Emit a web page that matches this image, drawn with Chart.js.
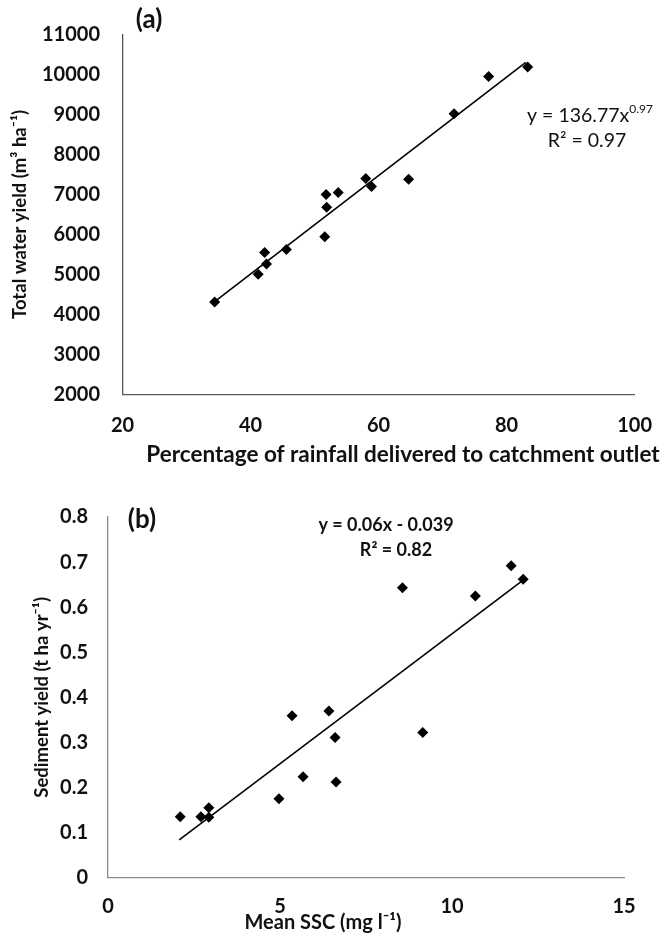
<!DOCTYPE html>
<html>
<head>
<meta charset="utf-8">
<script src="https://cdn.jsdelivr.net/npm/chart.js@4.4.0/dist/chart.umd.min.js"></script>
<style>
  body { margin: 0; background: #fff; }
  #wrap { position: relative; width: 671px; height: 937px; }
  canvas { position: absolute; left: 0; }
  #chartA { top: 0; }
  #chartB { top: 470px; }
</style>
</head>
<body>
<div id="wrap">
  <canvas id="chartA" width="671" height="470"></canvas>
  <canvas id="chartB" width="671" height="467"></canvas>
</div>
<script>
// ----------------------- DATA ----------------------- //

// (a) percentage of rainfall delivered vs total water yield
const pctRain    = [34.4, 41.2, 42.2, 42.5, 45.6, 51.6, 51.9, 51.8, 53.7, 58.0, 58.9, 64.7, 71.8, 77.2, 83.3];
const waterYield = [4310, 5000, 5550, 5260, 5620, 5940, 6680, 7000, 7050, 7400, 7200, 7380, 9020, 9950, 10190];
// fitted power curve, end points as drawn
const fitAx = [34.5, 83.0];
const fitAy = [4330, 10300];
const xTicksA = ['20', '40', '60', '80', '100'];
const yTicksA = ['2000', '3000', '4000', '5000', '6000', '7000', '8000', '9000', '10000', '11000'];

// (b) mean SSC vs sediment yield
const meanSSC  = [2.1, 2.7, 2.93, 2.93, 4.97, 5.67, 5.35, 6.42, 6.6, 6.63, 8.56, 9.15, 10.68, 11.72, 12.07];
const sedYield = [0.135, 0.135, 0.155, 0.134, 0.175, 0.224, 0.359, 0.37, 0.311, 0.212, 0.643, 0.322, 0.625, 0.692, 0.662];
// linear fit, end points as drawn
const fitBx = [2.07, 12.0];
const fitBy = [0.084, 0.656];
const xTicksB = ['0', '5', '10', '15'];
const yTicksB = ['0', '0.1', '0.2', '0.3', '0.4', '0.5', '0.6', '0.7', '0.8'];

const FONT = 'Lato, "Open Sans", sans-serif';

// ----------------------- TEXT PLUGIN ----------------------- //
// draws panel letters, equations and x titles
const notes = {
  id: 'notes',
  afterDraw(chart, args, opts) {
    const ctx = chart.ctx;
    ctx.save();
    ctx.fillStyle = '#111';
    ctx.textBaseline = 'middle';
    for (const t of opts.items) {
      ctx.font = t.font;
      const w1 = ctx.measureText(t.text).width;
      let w2 = 0;
      if (t.sup) {
        ctx.font = t.supFont;
        w2 = ctx.measureText(t.sup).width;
      }
      const start = t.x - (w1 + w2) / 2;
      ctx.textAlign = 'left';
      ctx.font = t.font;
      ctx.fillText(t.text, start, t.y);
      if (t.sup) {
        ctx.font = t.supFont;
        ctx.fillText(t.sup, start + w1, t.y - 7);
      }
    }
    ctx.restore();
  }
};

function tickFont() {
  return { family: FONT, size: 20, weight: 'bold' };
}

// ----------------------- CHART (a) ----------------------- //
new Chart(document.getElementById('chartA'), {
  type: 'scatter',
  data: {
    datasets: [{
      data: pctRain.map((x, i) => ({ x: x, y: waterYield[i] })),
      pointStyle: 'rectRot',
      pointRadius: 5.5,
      backgroundColor: '#000',
      borderColor: '#000',
      borderWidth: 0
    }, {
      type: 'line',
      data: fitAx.map((x, i) => ({ x: x, y: fitAy[i] })),
      borderColor: '#000',
      borderWidth: 1.6,
      pointRadius: 0,
      fill: false
    }]
  },
  options: {
    responsive: false,
    animation: false,
    layout: { padding: { left: 0, right: 31, top: 30, bottom: 0 } },
    plugins: {
      legend: { display: false },
      tooltip: { enabled: false },
      notes: {
        items: [
          { text: '(a)', x: 149, y: 20, font: 'bold 26px ' + FONT },
          { text: 'y = 136.77x', sup: '0.97', x: 590, y: 116, font: '19.5px ' + FONT, supFont: '12px ' + FONT },
          { text: 'R² = 0.97', x: 587, y: 141, font: '19.5px ' + FONT },
          { text: 'Percentage of rainfall delivered to catchment outlet', x: 403, y: 455, font: 'bold 22.5px ' + FONT }
        ]
      }
    },
    scales: {
      x: {
        type: 'linear',
        min: 20, max: 100,
        afterFit: (s) => { s.height = 470 - 394.3; },
        grid: { display: false, drawTicks: false },
        border: { display: true, color: '#5a5a5a', width: 1.3 },
        ticks: { stepSize: 20, padding: 19, color: '#111', font: tickFont(),
                 callback: (v, i) => xTicksA[i] }
      },
      y: {
        min: 2000, max: 11000,
        afterFit: (s) => { s.width = 122.5; },
        grid: { display: false, drawTicks: false },
        border: { display: true, color: '#5a5a5a', width: 1.3 },
        ticks: { stepSize: 1000, padding: 22.5, color: '#111', font: tickFont(),
                 callback: (v, i) => yTicksA[i] },
        title: { display: true, text: 'Total water yield (m³ ha⁻¹)', color: '#111',
                 font: { family: FONT, size: 18.5, weight: 'bold' }, padding: { top: 9, bottom: 0 } }
      }
    }
  },
  plugins: [notes]
});

// ----------------------- CHART (b) ----------------------- //
new Chart(document.getElementById('chartB'), {
  type: 'scatter',
  data: {
    datasets: [{
      data: meanSSC.map((x, i) => ({ x: x, y: sedYield[i] })),
      pointStyle: 'rectRot',
      pointRadius: 5.5,
      backgroundColor: '#000',
      borderColor: '#000',
      borderWidth: 0
    }, {
      type: 'line',
      data: fitBx.map((x, i) => ({ x: x, y: fitBy[i] })),
      borderColor: '#000',
      borderWidth: 1.6,
      pointRadius: 0,
      fill: false
    }]
  },
  options: {
    responsive: false,
    animation: false,
    layout: { padding: { left: 0, right: 47, top: 47, bottom: 0 } },
    plugins: {
      legend: { display: false },
      tooltip: { enabled: false },
      notes: {
        items: [
          { text: '(b)', x: 142, y: 50, font: 'bold 26px ' + FONT },
          { text: 'y = 0.06x - 0.039', x: 386, y: 55, font: 'bold 18px ' + FONT },
          { text: 'R² = 0.82', x: 396, y: 80, font: 'bold 18px ' + FONT },
          { text: 'Mean SSC (mg l⁻¹)', x: 323, y: 453, font: 'bold 20px ' + FONT }
        ]
      }
    },
    scales: {
      x: {
        type: 'linear',
        min: 0, max: 15,
        afterFit: (s) => { s.height = 467 - 407.7; },
        grid: { display: false, drawTicks: false },
        border: { display: true, color: '#8a8a8a', width: 1.3 },
        ticks: { stepSize: 5, padding: 17, color: '#111', font: tickFont(),
                 callback: (v, i) => xTicksB[i] }
      },
      y: {
        min: 0, max: 0.8,
        afterFit: (s) => { s.width = 108; },
        grid: { display: false, drawTicks: false },
        border: { display: true, color: '#8a8a8a', width: 1.3 },
        ticks: { stepSize: 0.1, padding: 20, color: '#111', font: tickFont(),
                 callback: (v, i) => yTicksB[i] },
        title: { display: true, text: 'Sediment yield (t ha yr⁻¹)', color: '#111',
                 font: { family: FONT, size: 18.5, weight: 'bold' }, padding: { top: 31, bottom: 0 } }
      }
    }
  },
  plugins: [notes]
});
</script>
</body>
</html>
